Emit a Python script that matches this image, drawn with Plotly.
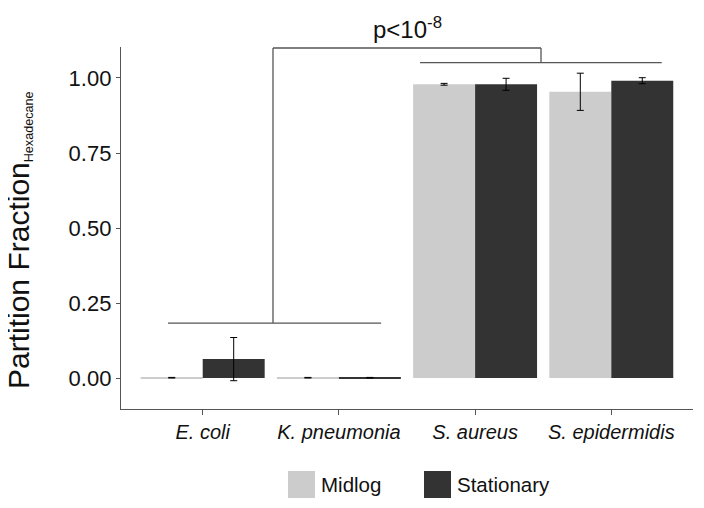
import plotly.graph_objects as go

categories = ["E. coli", "K. pneumonia", "S. aureus", "S. epidermidis"]
midlog = [0.001, 0.001, 0.979, 0.954]
midlog_err = [0.001, 0.001, 0.003, 0.062]
stationary = [0.063, 0.001, 0.979, 0.991]
stationary_err = [0.072, 0.001, 0.020, 0.010]
series_names = ["Midlog", "Stationary"]
series_colors = ["#cccccc", "#333333"]
y_ticks = [0, 0.25, 0.5, 0.75, 1.0]
y_tick_labels = ["0.00", "0.25", "0.50", "0.75", "1.00"]

FONT = "Liberation Sans, Arial, sans-serif"
TXT = "#111111"
x_idx = list(range(len(categories)))
tick_text = [f"<i>{c}</i>" for c in categories]

fig = go.Figure()
for name, vals, errs, col in zip(series_names, [midlog, stationary],
                                  [midlog_err, stationary_err], series_colors):
    fig.add_trace(go.Bar(
        x=x_idx, y=vals, name=name, marker=dict(color=col, line=dict(width=0)),
        error_y=dict(type="data", array=errs, visible=True, color="#000000",
                     thickness=1, width=3.5),
        showlegend=False,
    ))

line_style = dict(color="#555555", width=1.3)
# significance brackets
shapes = [
    dict(type="line", xref="x", yref="y", x0=-0.255, x1=1.31, y0=0.183, y1=0.183, line=line_style),
    dict(type="line", xref="x", yref="y", x0=1.596, x1=3.37, y0=1.051, y1=1.051, line=line_style),
    dict(type="line", xref="x", yref="y", x0=0.516, x1=2.484, y0=1.1, y1=1.1, line=line_style),
    dict(type="line", xref="x", yref="y", x0=0.516, x1=0.516, y0=1.1, y1=0.183, line=line_style),
    dict(type="line", xref="x", yref="y", x0=2.484, x1=2.484, y0=1.1, y1=1.051, line=line_style),
]

# page offset of the plot div (default body margin)
OFF = 8
W, H = 704 - 2 * OFF, 508 - 2 * OFF
# plot area in page pixels: x 121..693, y 47..409
PL, PR, PT, PB = 121, 693, 47, 409
L, T = PL - OFF, PT - OFF
R, B = W - (PR - OFF), H - (PB - OFF)
PW, PH = PR - PL, PB - PT


def px_x(p):
    return (p - PL) / PW


def px_y(p):
    return (PB - p) / PH


annotations = [
    dict(text="p<10<sup>-8</sup>", x=1.5, xref="x", y=px_y(28), yref="paper",
         showarrow=False, xanchor="center", yanchor="middle",
         font=dict(size=24, color=TXT, family=FONT)),
    dict(text="Partition Fraction<span style='font-size:18px'><sub>Hexadecane</sub></span>",
         textangle=-90, x=px_x(19), xref="paper", y=px_y(241), yref="paper",
         showarrow=False, xanchor="center", yanchor="middle",
         font=dict(size=30, color=TXT, family=FONT)),
]

# manual legend
legend_x = [288, 424]
for lx, name, col in zip(legend_x, series_names, series_colors):
    shapes.append(dict(type="rect", xref="paper", yref="paper",
                       x0=px_x(lx), x1=px_x(lx + 27),
                       y0=px_y(498), y1=px_y(471),
                       fillcolor=col, line=dict(width=0)))
    annotations.append(dict(text=name, xref="paper", yref="paper",
                            x=px_x(lx + 31), y=px_y(485),
                            xanchor="left", yanchor="middle", showarrow=False,
                            font=dict(size=20.5, color=TXT, family=FONT)))

fig.update_layout(
    width=W, height=H,
    margin=dict(l=L, r=R, t=T, b=B, pad=0),
    plot_bgcolor="white", paper_bgcolor="white",
    barmode="group", bargap=0.09, bargroupgap=0,
    font=dict(family=FONT, color=TXT),
    shapes=shapes, annotations=annotations,
    xaxis=dict(range=[-0.6, 3.6], tickvals=x_idx, ticktext=tick_text,
               automargin=False,
               showline=True, linecolor="#555555", linewidth=1.3,
               ticks="outside", ticklen=5, tickcolor="#555555",
               showgrid=False, zeroline=False,
               tickfont=dict(size=20, color=TXT)),
    yaxis=dict(range=[-0.1033, 1.1033], tickvals=y_ticks, ticktext=y_tick_labels,
               automargin=False,
               showline=True, linecolor="#555555", linewidth=1.3,
               ticks="outside", ticklen=4, tickcolor="#555555",
               showgrid=False, zeroline=False,
               tickfont=dict(size=22, color=TXT)),
)

fig.write_html("out.html")
